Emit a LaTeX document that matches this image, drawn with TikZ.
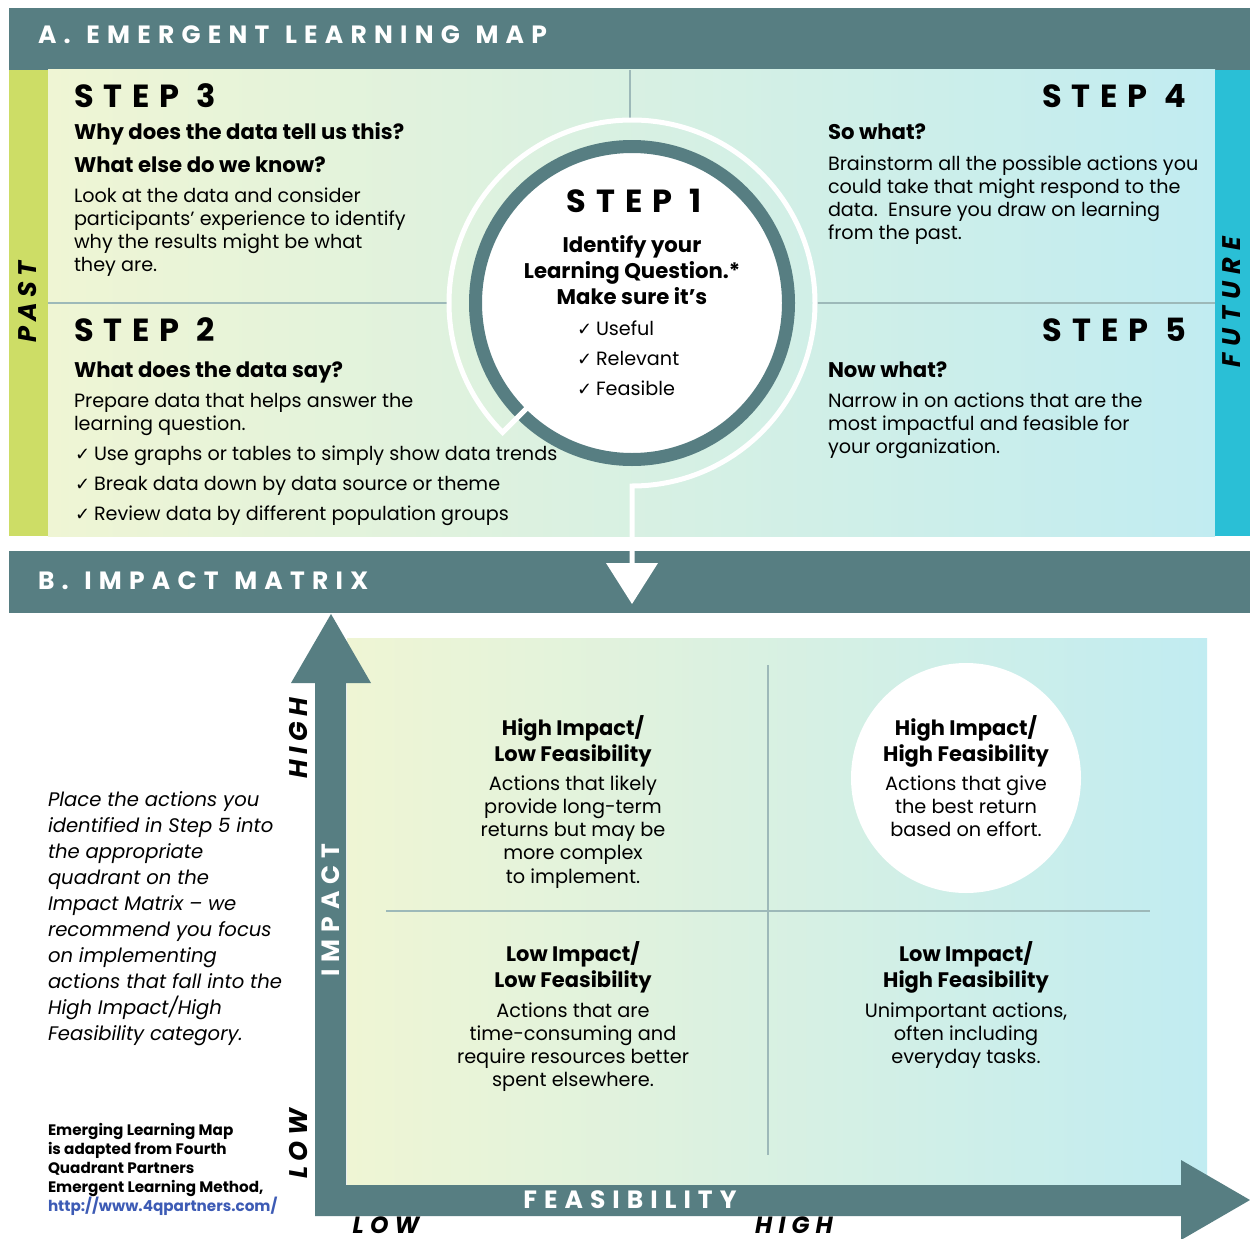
\documentclass[tikz,border=0pt]{standalone}
\usepackage{fontspec}
\setmainfont{Poppins}
\newfontfamily\djv{DejaVu Sans}
\newfontfamily\trkA[LetterSpace=29]{Poppins}
\newfontfamily\trkB[LetterSpace=31]{Poppins}
\newfontfamily\trkC[LetterSpace=21]{Poppins}
\newfontfamily\trkD[LetterSpace=28]{Poppins}
\newfontfamily\trkE[LetterSpace=26]{Poppins}
\usetikzlibrary{calc}
\definecolor{hdr}{HTML}{577E82}
\definecolor{pastc}{HTML}{CDDD66}
\definecolor{futc}{HTML}{2ABFD6}
\definecolor{gL}{HTML}{EFF5D4}
\definecolor{gR}{HTML}{C1ECF1}
\definecolor{divc}{HTML}{9DB9B9}
\definecolor{linkc}{HTML}{3D5BB5}
\newcommand\LftL[1]{\vtop{\halign{##\hfil\cr#1\crcr}}}
\newcommand\CtrL[1]{\vtop{\halign{\hfil##\hfil\cr#1\crcr}}}
\newcommand\ck{\makebox[19pt][l]{\djv\fontsize{18}{18}\selectfont ✓}}
\newcommand\wsp{\hspace{3pt}}
\tikzset{
  txt/.style={inner sep=0pt, outer sep=0pt, text=black},
  hdrtxt/.style={txt, text=white, font=\trkA\bfseries\fontsize{25}{25}\selectfont},
  stepf/.style={txt, font=\trkB\bfseries\fontsize{32}{32}\selectfont},
  qf/.style={txt, font=\bfseries\fontsize{21.2}{26}\selectfont},
  bodyf/.style={txt, font=\fontsize{19.2}{23.3}\selectfont},
  chkf/.style={txt, font=\fontsize{19.2}{30}\selectfont},
  sidef/.style={txt, rotate=90, font=\trkC\bfseries\itshape\fontsize{25.5}{25}\selectfont},
  axisf/.style={txt, text=white, font=\trkD\bfseries\fontsize{25}{25}\selectfont},
  botf/.style={txt, anchor=base, font=\trkE\bfseries\itshape\fontsize{23.5}{24}\selectfont},
  quadh/.style={txt, font=\bfseries\fontsize{21}{26}\selectfont},
  quadb/.style={txt, font=\fontsize{19.3}{23.3}\selectfont},
  divl/.style={draw=divc, line width=2.5pt},
}
\begin{document}
\begin{tikzpicture}[x=1pt, y=-1pt]
\useasboundingbox (0,0) rectangle (1250,1239);
\fill[white] (0,0) rectangle (1250,1239);
% ---------- Part A ----------
\fill[hdr] (9,8) rectangle (1250,70);
\shade[left color=gL, right color=gR] (48,70) rectangle (1215,536);
\fill[pastc] (9,70) rectangle (48,536);
\fill[futc] (1215,70) rectangle (1250,536);
\draw[divl] (630,70) -- (630,118);
\draw[divl] (48,303) -- (447,303);
\draw[divl] (817,303) -- (1215,303);
\fill[hdr] (9,551) rectangle (1250,613);
\coordinate (c1) at (632,303);
\draw[hdr, fill=white, line width=13pt] (c1) circle (156.5);
\draw[white, line width=5pt, line join=miter, miter limit=10]
  ($(c1)+(135:140)$) -- ($(c1)+(135:183)$) arc[start angle=135, end angle=450, radius=183] -- (632,565);
\fill[white] (606,563) -- (658,563) -- (632,604) -- cycle;

\node[hdrtxt, anchor=base west] (hA) at (38,44) {A.\wsp{} EMERGENT\wsp{} LEARNING\wsp{} MAP};
\node[hdrtxt, anchor=base west] (hB) at (38,589) {B.\wsp{} IMPACT\wsp{} MATRIX};

\node[sidef, text=black] (past) at (28,302) {PAST};
\node[sidef, text=black, font=\trkD\bfseries\itshape\fontsize{25.5}{25}\selectfont] (future) at (1232,302) {FUTURE};

\node[stepf, anchor=base west] (s3) at (74,107) {STEP 3};
\node[qf, anchor=base west] (s3q1) at (74,139) {Why does the data tell us this?};
\node[qf, anchor=base west] (s3q2) at (74,172) {What else do we know?};
\node[bodyf, anchor=base west] (s3b) at (74,202) {\LftL{Look at the data and consider\cr participants’ experience to identify\cr why the results might be what\cr they are.}};

\node[stepf, anchor=base west] (s2) at (74,341) {STEP 2};
\node[qf, anchor=base west] (s2q) at (74,377) {What does the data say?};
\node[bodyf, anchor=base west] (s2b) at (74,407) {\LftL{Prepare data that helps answer the\cr learning question.}};
\node[chkf, anchor=base west] (s2c) at (75,460) {\LftL{\ck Use graphs or tables to simply show data trends\cr \ck Break data down by data source or theme\cr \ck Review data by different population groups}};

\node[stepf, anchor=base east] (s4) at (1186,107) {STEP 4};
\node[qf, anchor=base west] (s4q) at (828,139) {So what?};
\node[bodyf, anchor=base west] (s4b) at (828,170) {\LftL{Brainstorm all the possible actions you\cr could take that might respond to the\cr data.\ \ Ensure you draw on learning\cr from the past.}};

\node[stepf, anchor=base east] (s5) at (1186,341) {STEP 5};
\node[qf, anchor=base west] (s5q) at (828,377) {Now what?};
\node[bodyf, anchor=base west] (s5b) at (828,407) {\LftL{Narrow in on actions that are the\cr most impactful and feasible for\cr your organization.}};

\node[stepf, anchor=base] (s1) at (634,212) {STEP 1};
\node[qf, anchor=base] (s1q) at (632,252) {\CtrL{Identify your\cr Learning Question.*\cr Make sure it’s}};
\node[chkf, anchor=base west] (s1c) at (577,335) {\LftL{\ck Useful\cr \ck Relevant\cr \ck Feasible}};

% ---------- Part B ----------
\shade[left color=gL, right color=gR] (347,638) rectangle (1207,1186);
\draw[divl, line width=2pt] (768,665) -- (768,1155);
\draw[divl, line width=2pt] (386,911) -- (1150,911);
\fill[white] (966,778) circle (115);
\fill[hdr] (315,1216) -- (315,683) -- (291,683) -- (331,614) -- (371,683) -- (346,683)
  -- (346,1185) -- (1181,1185) -- (1181,1160) -- (1250,1200) -- (1181,1240) -- (1181,1216) -- cycle;

\node[sidef, text=black] (ihigh) at (299,738) {HIGH};
\node[sidef, text=black] (ilow) at (299,1144) {LOW};
\node[axisf, rotate=90] (impact) at (331,910) {IMPACT};
\node[axisf] (feas) at (630,1200) {FEASIBILITY};
\node[botf] (flow) at (386,1233.5) {LOW};
\node[botf] (fhigh) at (794,1233.5) {HIGH};

\node[txt, anchor=base west, font=\itshape\fontsize{19.6}{26}\selectfont] (note) at (48,806) {\LftL{Place the actions you\cr identified in Step 5 into\cr the appropriate\cr quadrant on the\cr Impact Matrix – we\cr recommend you focus\cr on implementing\cr actions that fall into the\cr High Impact/High\cr Feasibility category.}};
\node[txt, anchor=base west, font=\bfseries\fontsize{15.2}{19}\selectfont] (credit) at (48,1135) {\LftL{Emerging Learning Map\cr is adapted from Fourth\cr Quadrant Partners\cr Emergent Learning Method,\cr \textcolor{linkc}{http://www.4qpartners.com/}}};

\node[quadh, anchor=base] (q1h) at (573,735) {\CtrL{High Impact/\cr Low Feasibility}};
\node[quadb, anchor=base] (q1b) at (573,790) {\CtrL{Actions that likely\cr provide long-term\cr returns but may be\cr more complex\cr to implement.}};
\node[quadh, anchor=base] (q2h) at (966,735) {\CtrL{High Impact/\cr High Feasibility}};
\node[quadb, anchor=base] (q2b) at (966,790) {\CtrL{Actions that give\cr the best return\cr based on effort.}};
\node[quadh, anchor=base] (q3h) at (573,961) {\CtrL{Low Impact/\cr Low Feasibility}};
\node[quadb, anchor=base] (q3b) at (573,1017) {\CtrL{Actions that are\cr time-consuming and\cr require resources better\cr spent elsewhere.}};
\node[quadh, anchor=base] (q4h) at (966,961) {\CtrL{Low Impact/\cr High Feasibility}};
\node[quadb, anchor=base] (q4b) at (966,1017) {\CtrL{Unimportant actions,\cr often including\cr everyday tasks.}};
\end{tikzpicture}
\end{document}
